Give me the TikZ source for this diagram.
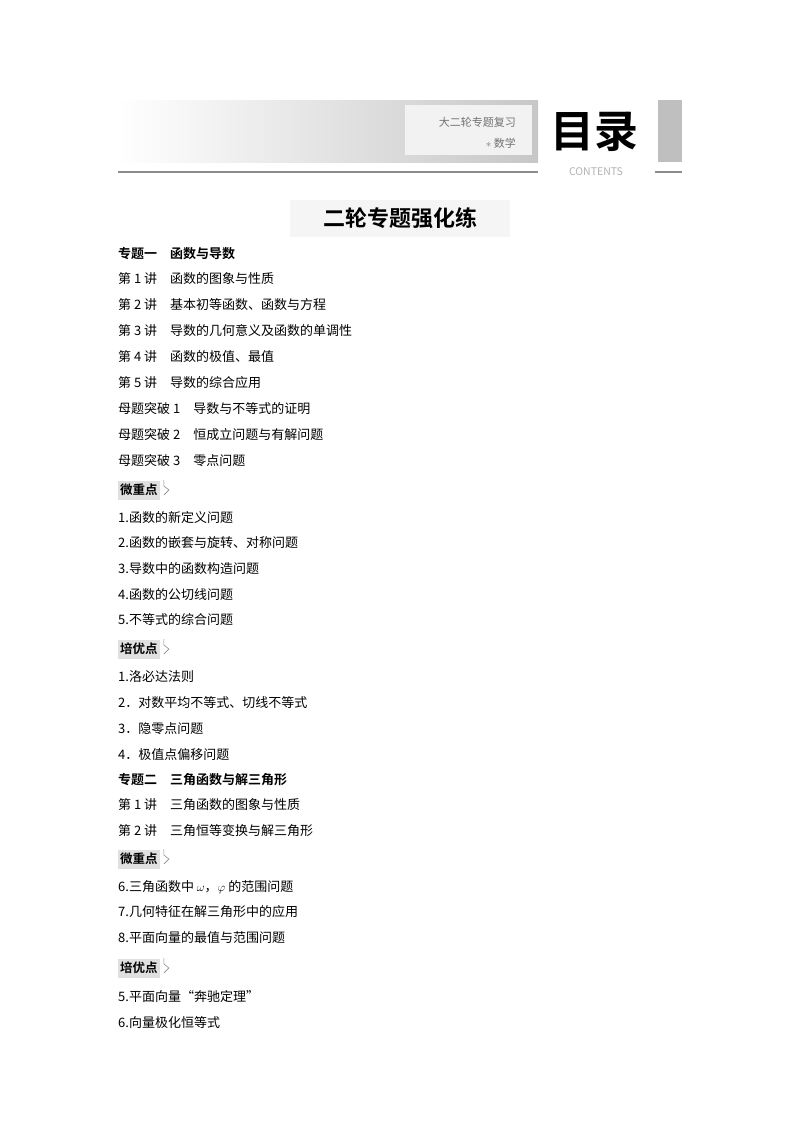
\documentclass[tikz,border=0pt]{standalone}
\usepackage{fontspec}
\setmainfont{Noto Sans CJK SC}
\newfontfamily\cjk{Noto Sans CJK SC}
\newfontfamily\cjkb{Noto Sans CJK SC Bold}
\begin{document}
\begin{tikzpicture}[x=1pt,y=-1pt,
  ln/.style={anchor=west,inner sep=0pt,font=\fontsize{13}{13}\selectfont},
  hd/.style={anchor=west,inner sep=0pt,font=\cjkb\fontsize{13}{13}\selectfont},
  tag/.style={anchor=west,inner sep=2pt,fill=black!12,font=\cjkb\fontsize{12.5}{12.5}\selectfont,minimum height=19pt}]
\useasboundingbox (0,0) rectangle (800,1132);
\fill[white] (0,0) rectangle (800,1132);
\shade[left color=white,right color=black!22] (118,100) rectangle (538,162);
\fill[black!5] (405,105) rectangle (532,155);
\node[anchor=east,inner sep=0pt,text=black!55,font=\fontsize{11}{11}\selectfont] (s1) at (516,122) {大二轮专题复习};
\node[anchor=east,inner sep=0pt,text=black!55,font=\fontsize{11}{11}\selectfont] (s2) at (516,143) {$\ast$ 数学};
\node[inner sep=0pt,font=\cjkb\fontsize{44}{44}\selectfont] (ml) at (594,132) {目录};
\fill[black!25] (658,100) rectangle (682,162);
\draw[black!45,line width=1.3pt] (118,172) -- (538,172);
\draw[black!45,line width=1.3pt] (655,172) -- (682,172);
\node[inner sep=0pt,text=black!30,font=\rmfamily\fontsize{10.5}{10.5}\selectfont] (ct) at (596,172) {CONTENTS};
\fill[black!4] (290,200) rectangle (510,237);
\node[inner sep=0pt,font=\cjkb\fontsize{22}{22}\selectfont] (tt) at (400,218) {二轮专题强化练};
\newcommand{\tagmark}[3]{\node[tag] (#1) at (118,#2) {#3};
  \draw[black!45,line width=0.6pt] ([xshift=4pt,yshift=-5pt]#1.east) -- ([xshift=9pt]#1.east) -- ([xshift=4pt,yshift=4pt]#1.east) -- ([xshift=4pt,yshift=10pt]#1.east);}
\node[hd] (a1) at (118,254) {专题一\quad 函数与导数};
\node[ln] (a2) at (118,279) {第 1 讲\quad 函数的图象与性质};
\node[ln] (a3) at (118,305) {第 2 讲\quad 基本初等函数、函数与方程};
\node[ln] (a4) at (118,331) {第 3 讲\quad 导数的几何意义及函数的单调性};
\node[ln] (a5) at (118,357) {第 4 讲\quad 函数的极值、最值};
\node[ln] (a6) at (118,383) {第 5 讲\quad 导数的综合应用};
\node[ln] (a7) at (118,409) {母题突破 1\quad 导数与不等式的证明};
\node[ln] (a8) at (118,435) {母题突破 2\quad 恒成立问题与有解问题};
\node[ln] (a9) at (118,461) {母题突破 3\quad 零点问题};
\tagmark{t1}{490}{微重点}
\node[ln] (b1) at (118,518) {1.函数的新定义问题};
\node[ln] (b2) at (118,543) {2.函数的嵌套与旋转、对称问题};
\node[ln] (b3) at (118,569) {3.导数中的函数构造问题};
\node[ln] (b4) at (118,595) {4.函数的公切线问题};
\node[ln] (b5) at (118,620) {5.不等式的综合问题};
\tagmark{t2}{649}{培优点}
\node[ln] (c1) at (118,677) {1.洛必达法则};
\node[ln] (c2) at (118,703) {2．对数平均不等式、切线不等式};
\node[ln] (c3) at (118,729) {3．隐零点问题};
\node[ln] (c4) at (118,755) {4．极值点偏移问题};
\node[hd] (d1) at (118,780) {专题二\quad 三角函数与解三角形};
\node[ln] (d2) at (118,805) {第 1 讲\quad 三角函数的图象与性质};
\node[ln] (d3) at (118,831) {第 2 讲\quad 三角恒等变换与解三角形};
\tagmark{t3}{859}{微重点}
\node[ln] (e1) at (118,887) {6.三角函数中 $\omega$，$\varphi$ 的范围问题};
\node[ln] (e2) at (118,912) {7.几何特征在解三角形中的应用};
\node[ln] (e3) at (118,938) {8.平面向量的最值与范围问题};
\tagmark{t4}{968}{培优点}
\node[ln] (f1) at (118,997) {5.平面向量“奔驰定理”};
\node[ln] (f2) at (118,1023) {6.向量极化恒等式};
\end{tikzpicture}
\end{document}
